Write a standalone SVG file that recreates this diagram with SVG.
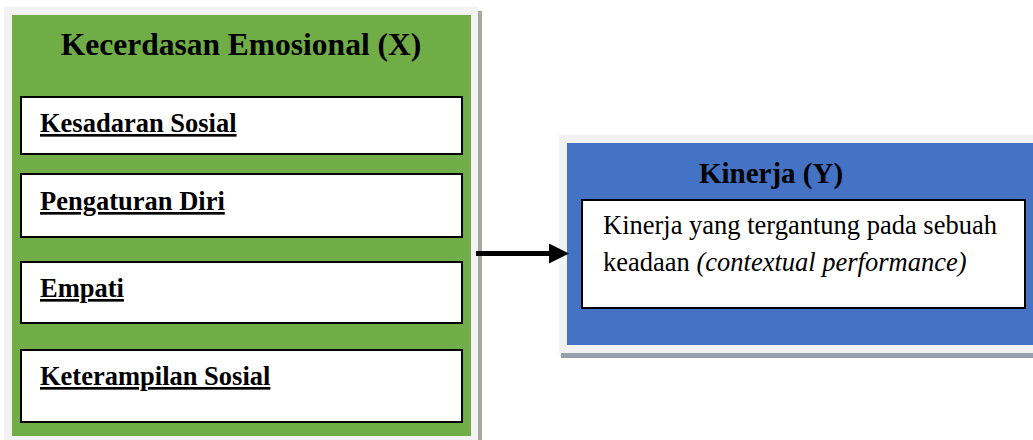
<svg xmlns="http://www.w3.org/2000/svg" width="1033" height="440" viewBox="0 0 1033 440">
<style>
.frame{fill:#f2f2f2}
.shadow{fill:#a3aa9c}
.shadowb{fill:#97a0ad}
.item{fill:#ffffff;stroke:#000000;stroke-width:2}
.title{font-family:"Liberation Serif","Times New Roman",serif;font-weight:bold;fill:#000}
.lbl{font-family:"Liberation Serif","Times New Roman",serif;font-weight:bold;font-size:26.5px;text-decoration:underline;fill:#000}
.body{font-family:"Liberation Serif","Times New Roman",serif;font-size:26.5px;fill:#000}
</style>
<defs>
<marker id="ah" markerWidth="20" markerHeight="20" refX="0" refY="10" orient="auto" markerUnits="userSpaceOnUse">
<path d="M0,0 L20,10 L0,20 Z" fill="#000"/>
</marker>
</defs>
<rect width="1033" height="440" fill="#ffffff"/>
<g id="node-x">
<rect class="frame" x="4" y="7" width="474" height="433"/>
<rect class="shadow" x="478" y="11" width="4" height="429"/>
<rect x="12" y="15" width="459" height="421" fill="#70ad47"/>
<text class="title" x="241" y="55" font-size="31.5" text-anchor="middle">Kecerdasan Emosional (X)</text>
</g>
<g id="node-kesadaran">
<rect class="item" x="21" y="97" width="441" height="57"/>
<text class="lbl" x="40" y="132">Kesadaran Sosial</text>
</g>
<g id="node-pengaturan">
<rect class="item" x="21" y="174" width="441" height="63"/>
<text class="lbl" x="40" y="210">Pengaturan Diri</text>
</g>
<g id="node-empati">
<rect class="item" x="21" y="262" width="441" height="61"/>
<text class="lbl" x="40" y="297">Empati</text>
</g>
<g id="node-keterampilan">
<rect class="item" x="21" y="350" width="441" height="72"/>
<text class="lbl" x="40" y="385">Keterampilan Sosial</text>
</g>
<g id="node-y">
<rect class="frame" x="559" y="135" width="474" height="218"/>
<rect class="shadowb" x="561" y="353" width="472" height="5"/>
<rect x="567" y="143" width="466" height="202" fill="#4472c4"/>
<text class="title" x="771" y="183" font-size="29" text-anchor="middle">Kinerja (Y)</text>
<rect class="item" x="582" y="200" width="443" height="108"/>
<text class="body" x="603" y="234">Kinerja yang tergantung pada sebuah</text>
<text class="body" x="603" y="271">keadaan <tspan font-style="italic">(contextual performance)</tspan></text>
</g>
<g id="connectors">
<line x1="476" y1="253.5" x2="549" y2="253.5" stroke="#000" stroke-width="5" marker-end="url(#ah)"/>
</g>
</svg>
